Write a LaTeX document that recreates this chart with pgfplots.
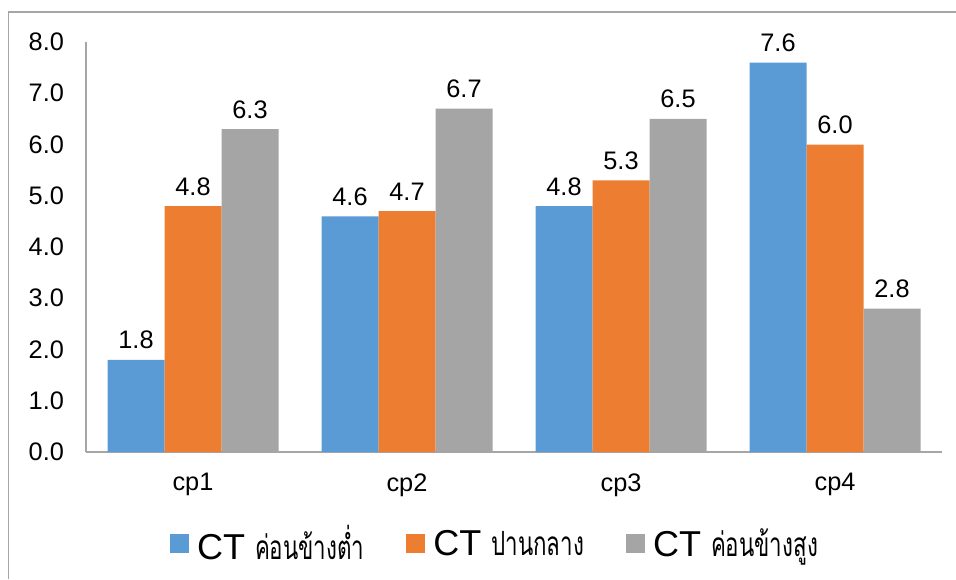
\documentclass[border=0pt]{standalone}
\usepackage{pgfplots}
\pgfplotsset{compat=1.18}
\usepackage{fontspec}
\setmainfont{Liberation Sans}
\newfontfamily\thaifont[Script=Thai, FakeStretch=0.67]{Loma}
\definecolor{cblue}{HTML}{5B9BD5}
\definecolor{corange}{HTML}{ED7D31}
\definecolor{cgray}{HTML}{A5A5A5}
\definecolor{linegray}{HTML}{A6A6A6}
\newcommand{\legct}[1]{{\fontsize{27pt}{28pt}\selectfont CT}\hspace{7.5pt}{\thaifont\fontsize{25pt}{28pt}\selectfont #1}}

\begin{document}
\begin{tikzpicture}
\path[use as bounding box] (0,0) rectangle (717pt,434.25pt);
% chart frame (left and top edges)
\draw[linegray, line width=1.1pt] (6.4pt,0) -- (6.4pt,425.25pt) -- (717pt,425.25pt);
\begin{axis}[
  at={(64.5pt,95.25pt)}, anchor=south west,
  scale only axis, width=642pt, height=307.5pt,
  ybar=0pt, bar width=42.75pt,
  xmin=-0.5, xmax=3.5, ymin=0, ymax=8,
  xtick={0,1,2,3}, xticklabels={cp1,cp2,cp3,cp4},
  ytick={0,1,...,8},
  axis x line*=bottom, axis y line*=left,
  axis line style={linegray, line width=0.9pt, -},
  major tick length=0pt,
  tick label style={font=\fontsize{19pt}{21pt}\selectfont},
  /pgf/number format/assume math mode=true,
  yticklabel={\pgfmathprintnumber[fixed,fixed zerofill,precision=1]{\tick}},
  yticklabel style={xshift=-13pt},
  xticklabel style={yshift=-12.5pt},
  nodes near coords={\pgfmathprintnumber[fixed,fixed zerofill,precision=1,assume math mode=true]{\pgfplotspointmeta}},
  nodes near coords style={font=\fontsize{19pt}{21pt}\selectfont, yshift=4.5pt, text=black},
  legend style={at={(0.4766,-0.223)}, anchor=center, draw=none, fill=none,
    legend columns=3, /tikz/every even column/.append style={column sep=31.5pt},
    nodes={inner xsep=0pt}},
  legend image code/.code={\fill[#1] (0pt,-7.125pt) rectangle (14.25pt,7.125pt); \path (20.25pt,0pt);},
]
\addplot[fill=cblue, draw=none] coordinates {(0,1.8) (1,4.6) (2,4.8) (3,7.6)};
\addplot[fill=corange, draw=none] coordinates {(0,4.8) (1,4.7) (2,5.3) (3,6.0)};
\addplot[fill=cgray, draw=none] coordinates {(0,6.3) (1,6.7) (2,6.5) (3,2.8)};
\addlegendentry{\legct{ค่อนข้างต่ำ}}
\addlegendentry{\legct{ปานกลาง}}
\addlegendentry{\legct{ค่อนข้างสูง}}
\end{axis}
\end{tikzpicture}
\end{document}
